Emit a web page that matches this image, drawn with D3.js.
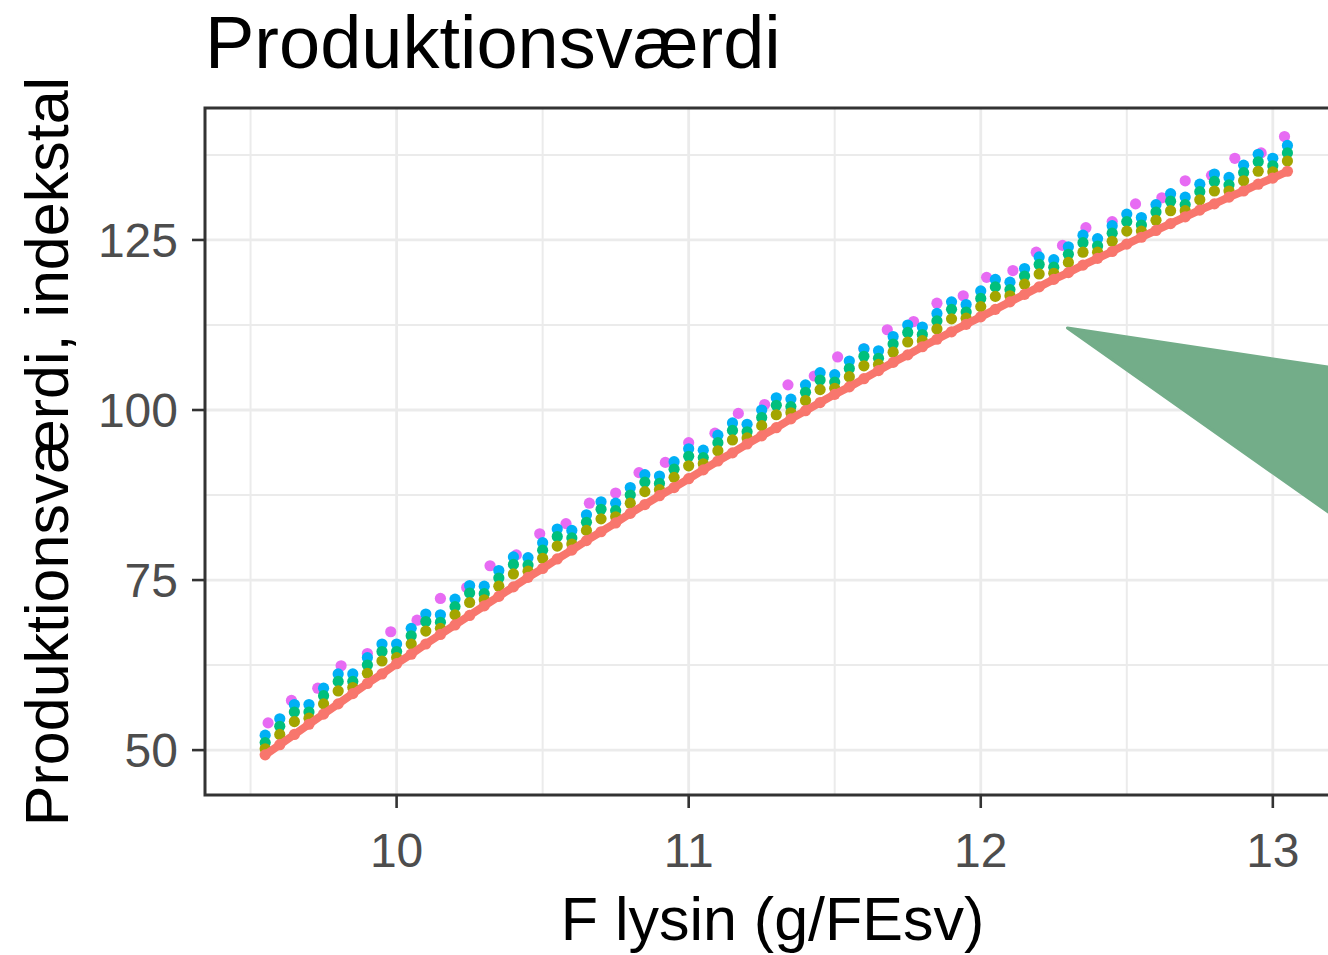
<!DOCTYPE html>
<html>
<head>
<meta charset="utf-8">
<script src="https://cdn.jsdelivr.net/npm/d3@7"></script>
<style>
  html, body { margin: 0; padding: 0; background: #fff; overflow: hidden; }
  svg { display: block; font-family: "Liberation Sans", Arial, sans-serif; }
</style>
</head>
<body>
<svg id="chart" width="1328" height="955"></svg>
<script>
// tick values
const xTicks = [10, 11, 12, 13];
const xMinor = [9.5, 10.5, 11.5, 12.5];
const yTicks = [50, 75, 100, 125];
const yMinor = [62.5, 87.5, 112.5, 137.5];

// shared F lysin grid for the four dense series
const lysin = [9.55, 9.60, 9.65, 9.70, 9.75, 9.80, 9.85, 9.90, 9.95, 10.00,
  10.05, 10.10, 10.15, 10.20, 10.25, 10.30, 10.35, 10.40, 10.45, 10.50,
  10.55, 10.60, 10.65, 10.70, 10.75, 10.80, 10.85, 10.90, 10.95, 11.00,
  11.05, 11.10, 11.15, 11.20, 11.25, 11.30, 11.35, 11.40, 11.45, 11.50,
  11.55, 11.60, 11.65, 11.70, 11.75, 11.80, 11.85, 11.90, 11.95, 12.00,
  12.05, 12.10, 12.15, 12.20, 12.25, 12.30, 12.35, 12.40, 12.45, 12.50,
  12.55, 12.60, 12.65, 12.70, 12.75, 12.80, 12.85, 12.90, 12.95, 13.00, 13.05];

const redVals = [49.3, 50.8, 52.3, 53.8, 55.3, 56.8, 58.3, 59.8, 61.2, 62.7,
  64.1, 65.6, 67.0, 68.4, 69.8, 71.2, 72.6, 74.0, 75.4, 76.7,
  78.1, 79.4, 80.8, 82.1, 83.4, 84.8, 86.1, 87.4, 88.6, 89.9,
  91.2, 92.5, 93.7, 95.0, 96.2, 97.4, 98.7, 99.9, 101.1, 102.3,
  103.4, 104.6, 105.8, 107.0, 108.1, 109.3, 110.4, 111.5, 112.6, 113.7,
  114.8, 115.9, 117.0, 118.1, 119.2, 120.2, 121.3, 122.3, 123.3, 124.4,
  125.4, 126.4, 127.4, 128.4, 129.4, 130.3, 131.3, 132.2, 133.2, 134.1, 135.1];

const oliveVals = [50.2, 52.3, 54.2, 54.7, 56.8, 58.7, 59.2, 61.3, 63.1, 63.6,
  65.6, 67.5, 67.9, 69.9, 71.7, 72.1, 74.1, 75.9, 76.3, 78.2,
  80.0, 80.3, 82.3, 84.0, 84.3, 86.3, 88.0, 88.3, 90.1, 91.8,
  92.1, 94.0, 95.6, 95.9, 97.7, 99.3, 99.6, 101.4, 103.0, 103.2,
  104.9, 106.5, 106.7, 108.5, 110.0, 110.2, 111.9, 113.4, 113.5, 115.2,
  116.7, 116.8, 118.5, 120.0, 120.1, 121.7, 123.2, 123.2, 124.8, 126.3,
  126.3, 127.9, 129.3, 129.3, 130.9, 132.2, 132.2, 133.7, 135.1, 135.0, 136.6];

const greenVals = [51.1, 53.5, 55.6, 55.6, 58.0, 60.1, 60.1, 62.5, 64.5, 64.5,
  66.8, 68.9, 68.8, 71.1, 73.1, 73.0, 75.3, 77.3, 77.2, 79.4,
  81.4, 81.2, 83.5, 85.4, 85.2, 87.5, 89.4, 89.2, 91.3, 93.2,
  93.0, 95.2, 97.0, 96.8, 98.9, 100.7, 100.5, 102.6, 104.4, 104.1,
  106.1, 107.9, 107.6, 109.7, 111.4, 111.1, 113.1, 114.8, 114.4, 116.4,
  118.1, 117.7, 119.7, 121.4, 121.0, 122.9, 124.6, 124.1, 126.0, 127.7,
  127.2, 129.1, 130.7, 130.2, 132.1, 133.6, 133.1, 134.9, 136.5, 135.9, 137.8];

const blueVals = [52.2, 54.6, 56.7, 56.7, 59.1, 61.2, 61.2, 63.6, 65.6, 65.6,
  67.9, 70.0, 69.9, 72.2, 74.2, 74.1, 76.4, 78.4, 78.3, 80.5,
  82.5, 82.3, 84.6, 86.5, 86.3, 88.6, 90.5, 90.3, 92.4, 94.3,
  94.1, 96.3, 98.1, 97.9, 100.0, 101.8, 101.6, 103.7, 105.5, 105.2,
  107.2, 109.0, 108.7, 110.8, 112.5, 112.2, 114.2, 115.9, 115.5, 117.5,
  119.2, 118.8, 120.8, 122.5, 122.1, 124.0, 125.7, 125.2, 127.1, 128.8,
  128.3, 130.2, 131.8, 131.3, 133.2, 134.7, 134.2, 136.0, 137.6, 137.0, 138.9];

// sparse top series
const magentaX = [9.56, 9.64, 9.73, 9.81, 9.90, 9.98, 10.07, 10.15, 10.24, 10.32,
  10.41, 10.49, 10.58, 10.66, 10.75, 10.83, 10.92, 11.00, 11.09, 11.17,
  11.26, 11.34, 11.43, 11.51, 11.60, 11.68, 11.77, 11.85, 11.94, 12.02,
  12.11, 12.19, 12.28, 12.36, 12.45, 12.53, 12.62, 12.70, 12.79, 12.87, 12.96, 13.04];
const magentaVals = [54.0, 57.3, 59.1, 62.4, 64.2, 67.4, 69.1, 72.3, 73.9, 77.1,
  78.7, 81.8, 83.3, 86.3, 87.8, 90.8, 92.3, 95.2, 96.6, 99.5,
  100.8, 103.7, 105.0, 107.8, 109.0, 111.8, 113.0, 115.7, 116.8, 119.5,
  120.5, 123.2, 124.2, 126.8, 127.7, 130.3, 131.2, 133.7, 134.5, 137.0, 137.8, 140.2];

// green pointer drawn over the right of the panel (data units)
const pointer = [[12.297, 112.06], [13.19, 106.3], [13.19, 85.0]];

const svg = d3.select('#chart');

const x = d3.scaleLinear().domain([9.344, 13.23]).range([205, 1340]);
const y = d3.scaleLinear().domain([43.4, 144.4]).range([795, 108]);

const gGrid = svg.append('g');

// Minor grid
gGrid.selectAll('none').data(xMinor).enter().append('line')
  .attr('x1', d => x(d)).attr('x2', d => x(d))
  .attr('y1', y.range()[0]).attr('y2', y.range()[1])
  .attr('stroke', '#EBEBEB').attr('stroke-width', 2);
gGrid.selectAll('none').data(yMinor).enter().append('line')
  .attr('x1', x.range()[0]).attr('x2', x.range()[1])
  .attr('y1', d => y(d)).attr('y2', d => y(d))
  .attr('stroke', '#EBEBEB').attr('stroke-width', 2);

// Major grid
gGrid.selectAll('none').data(xTicks).enter().append('line')
  .attr('x1', d => x(d)).attr('x2', d => x(d))
  .attr('y1', y.range()[0]).attr('y2', y.range()[1])
  .attr('stroke', '#EBEBEB').attr('stroke-width', 2.8);
gGrid.selectAll('none').data(yTicks).enter().append('line')
  .attr('x1', x.range()[0]).attr('x2', x.range()[1])
  .attr('y1', d => y(d)).attr('y2', d => y(d))
  .attr('stroke', '#EBEBEB').attr('stroke-width', 2.8);

// Points, drawn bottom layer first
const series = [
  { xs: magentaX, ys: magentaVals, color: '#E76BF3' },
  { xs: lysin, ys: blueVals, color: '#00B0F6' },
  { xs: lysin, ys: greenVals, color: '#00BF7D' },
  { xs: lysin, ys: oliveVals, color: '#A3A500' },
  { xs: lysin, ys: redVals, color: '#F8766D', line: true }
];

const gPoints = svg.append('g');
series.forEach((s) => {
  const pts = s.xs.map((v, i) => [v, s.ys[i]]);
  if (s.line) {
    gPoints.append('path')
      .datum(pts)
      .attr('fill', 'none')
      .attr('stroke', s.color)
      .attr('stroke-width', 8)
      .attr('d', d3.line().x(d => x(d[0])).y(d => y(d[1])));
  }
  gPoints.selectAll('none')
    .data(pts)
    .enter()
    .append('circle')
    .attr('cx', d => x(d[0]))
    .attr('cy', d => y(d[1]))
    .attr('r', 5.6)
    .attr('fill', s.color);
});

// Panel border
svg.append('rect')
  .attr('x', x.range()[0]).attr('y', y.range()[1])
  .attr('width', x.range()[1] - x.range()[0])
  .attr('height', y.range()[0] - y.range()[1])
  .attr('fill', 'none').attr('stroke', '#333333').attr('stroke-width', 3);

// Ticks and tick labels
svg.selectAll('none').data(yTicks).enter().append('line')
  .attr('x1', x.range()[0] - 13).attr('x2', x.range()[0])
  .attr('y1', d => y(d)).attr('y2', d => y(d))
  .attr('stroke', '#333333').attr('stroke-width', 2.6);
svg.selectAll('none').data(yTicks).enter().append('text')
  .attr('x', 178).attr('y', d => y(d) + 17)
  .attr('text-anchor', 'end')
  .attr('font-size', 48).attr('fill', '#4D4D4D')
  .text(d => d);

svg.selectAll('none').data(xTicks).enter().append('line')
  .attr('x1', d => x(d)).attr('x2', d => x(d))
  .attr('y1', y.range()[0]).attr('y2', y.range()[0] + 13)
  .attr('stroke', '#333333').attr('stroke-width', 2.6);
svg.selectAll('none').data(xTicks).enter().append('text')
  .attr('x', d => x(d)).attr('y', 867)
  .attr('text-anchor', 'middle')
  .attr('font-size', 48).attr('fill', '#4D4D4D')
  .text(d => d);

// Axis titles
svg.append('text')
  .attr('x', (x.range()[0] + x.range()[1]) / 2).attr('y', 940)
  .attr('text-anchor', 'middle').attr('font-size', 61).attr('fill', '#000')
  .text('F lysin (g/FEsv)');

svg.append('text')
  .attr('transform', `translate(68, ${(y.range()[0] + y.range()[1]) / 2})rotate(-90)`)
  .attr('text-anchor', 'middle').attr('font-size', 61).attr('fill', '#000')
  .text('Produktionsværdi, indekstal');

// Title
svg.append('text')
  .attr('x', 205).attr('y', 68)
  .attr('font-size', 74).attr('fill', '#000')
  .text('Produktionsværdi');

// Green pointer overlay
svg.append('path')
  .datum(pointer)
  .attr('fill', '#73AD89')
  .attr('stroke', '#73AD89')
  .attr('stroke-width', 3)
  .attr('stroke-linejoin', 'round')
  .attr('d', d => d3.line().x(p => x(p[0])).y(p => y(p[1]))(d) + 'Z');
</script>
</body>
</html>
